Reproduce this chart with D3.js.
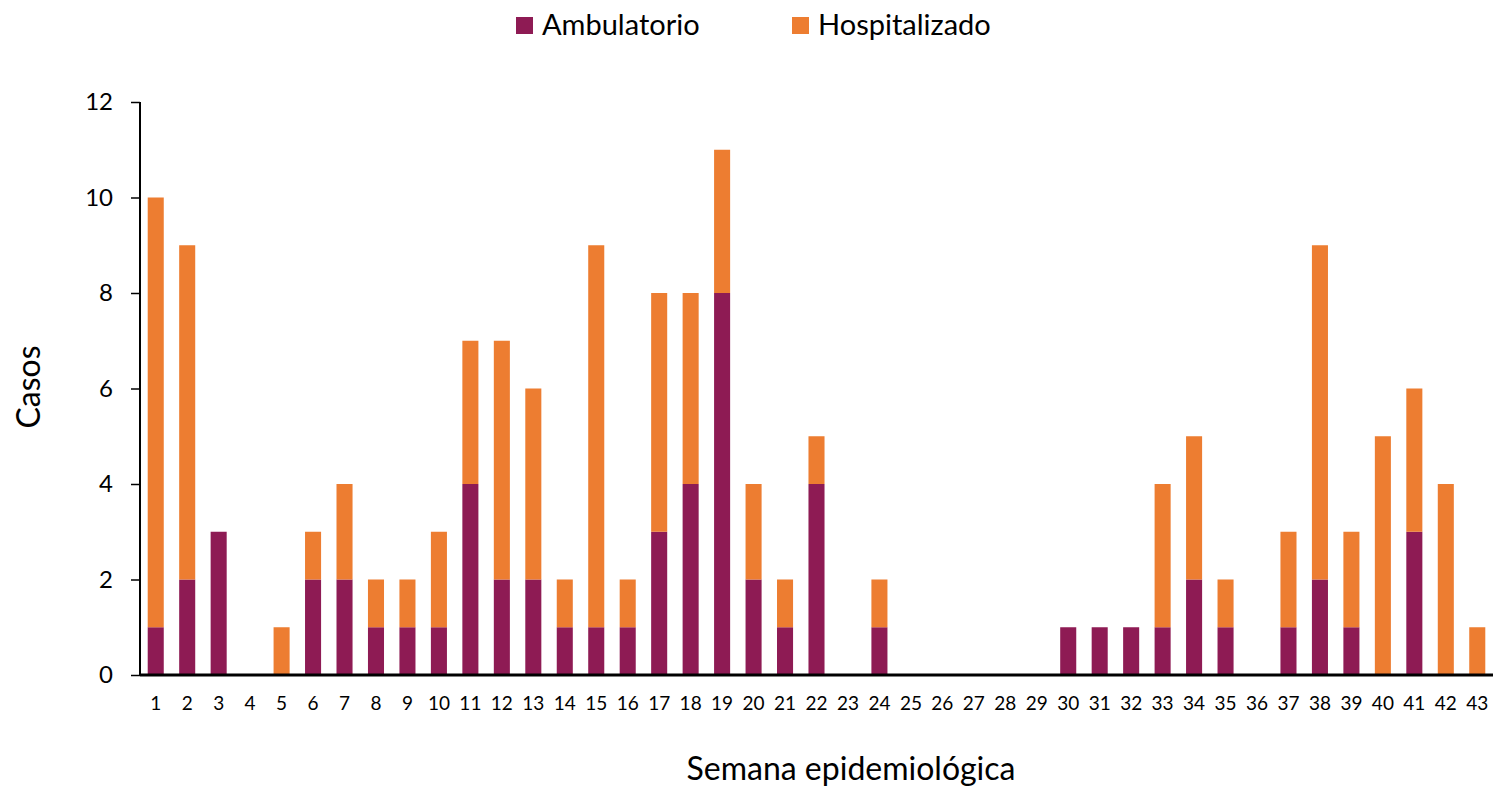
<!DOCTYPE html>
<html lang="es">
<head>
<meta charset="utf-8">
<title>Casos por semana epidemiológica</title>
<script src="https://cdn.jsdelivr.net/npm/d3@7"></script>
<style>
  body { margin: 0; background: #fff; }
  text { font-family: Lato, "Open Sans", sans-serif; fill: #000; }
  .x-axis .tick text { font-size: 19px; }
  .y-axis .tick text { font-size: 24px; }
  .legend text { font-size: 29px; }
  .axis-title { font-size: 32px; }
</style>
</head>
<body>
<script>
// semanas epidemiológicas 1..43
const semanas = d3.range(1, 44).map(String);
const ambulatorio = [1,2,3,0,0,2,2,1,1,1,4,2,2,1,1,1,3,4,8,2,1,4,0,1,0,0,0,0,0,1,1,1,1,2,1,0,1,2,1,0,3,0,0];
const hospitalizado = [9,7,0,0,1,1,2,1,1,2,3,5,4,1,8,1,5,4,3,2,1,1,0,1,0,0,0,0,0,0,0,0,3,3,1,0,2,7,2,5,3,4,1];
const yTicks = [0, 2, 4, 6, 8, 10, 12];
const series = ["Ambulatorio", "Hospitalizado"];
const colores = ["#8E1B54", "#ED7D31"];

const width = 1493, height = 789;
const margin = {top: 102, right: 0, bottom: 114, left: 140};

const svg = d3.select("body").append("svg")
  .attr("width", width)
  .attr("height", height);

const x = d3.scaleBand()
  .domain(semanas)
  .range([margin.left, width - margin.right])
  .paddingInner(0.49)
  .paddingOuter(0.245);

const y = d3.scaleLinear()
  .domain([0, 12])
  .range([height - margin.bottom, margin.top]);

// apilar datos
const tabla = semanas.map((s, i) => ({semana: s, Ambulatorio: ambulatorio[i], Hospitalizado: hospitalizado[i]}));
const stack = d3.stack().keys(series)(tabla);

svg.append("g")
  .selectAll("g")
  .data(stack)
  .join("g")
  .attr("fill", (d, i) => colores[i])
  .selectAll("rect")
  .data(d => d)
  .join("rect")
  .attr("x", d => x(d.data.semana))
  .attr("y", d => y(d[1]))
  .attr("width", x.bandwidth())
  .attr("height", d => y(d[0]) - y(d[1]));

// eje y
const yAxis = svg.append("g")
  .attr("class", "y-axis")
  .attr("transform", "translate(" + margin.left + ",0)")
  .call(d3.axisLeft(y).tickValues(yTicks).tickSize(9).tickPadding(18).tickFormat(d3.format("d")));
yAxis.select(".domain").attr("stroke-width", 2).attr("d", "M0," + y(12) + "V" + y(0));
yAxis.selectAll(".tick line").attr("stroke-width", 1.5);

// eje x
const xAxis = svg.append("g")
  .attr("class", "x-axis")
  .attr("transform", "translate(0," + y(0) + ")")
  .call(d3.axisBottom(x).tickSize(0).tickPadding(22));
xAxis.select(".domain").attr("stroke-width", 3).attr("d", "M" + margin.left + ",0H" + width);

// títulos de ejes
svg.append("text")
  .attr("class", "axis-title")
  .attr("transform", "translate(40," + 387 + ") rotate(-90)")
  .attr("text-anchor", "middle")
  .text("Casos");

svg.append("text")
  .attr("class", "axis-title")
  .attr("x", 851)
  .attr("y", 780)
  .attr("text-anchor", "middle")
  .text("Semana epidemiológica");

// leyenda
const legendX = [516, 792];
const legend = svg.append("g").attr("class", "legend")
  .selectAll("g")
  .data(series)
  .join("g")
  .attr("transform", (d, i) => "translate(" + legendX[i] + ",17)");
legend.append("rect")
  .attr("width", 17).attr("height", 17)
  .attr("fill", (d, i) => colores[i]);
legend.append("text")
  .attr("x", 26)
  .attr("y", 18)
  .text(d => d);
</script>
</body>
</html>
